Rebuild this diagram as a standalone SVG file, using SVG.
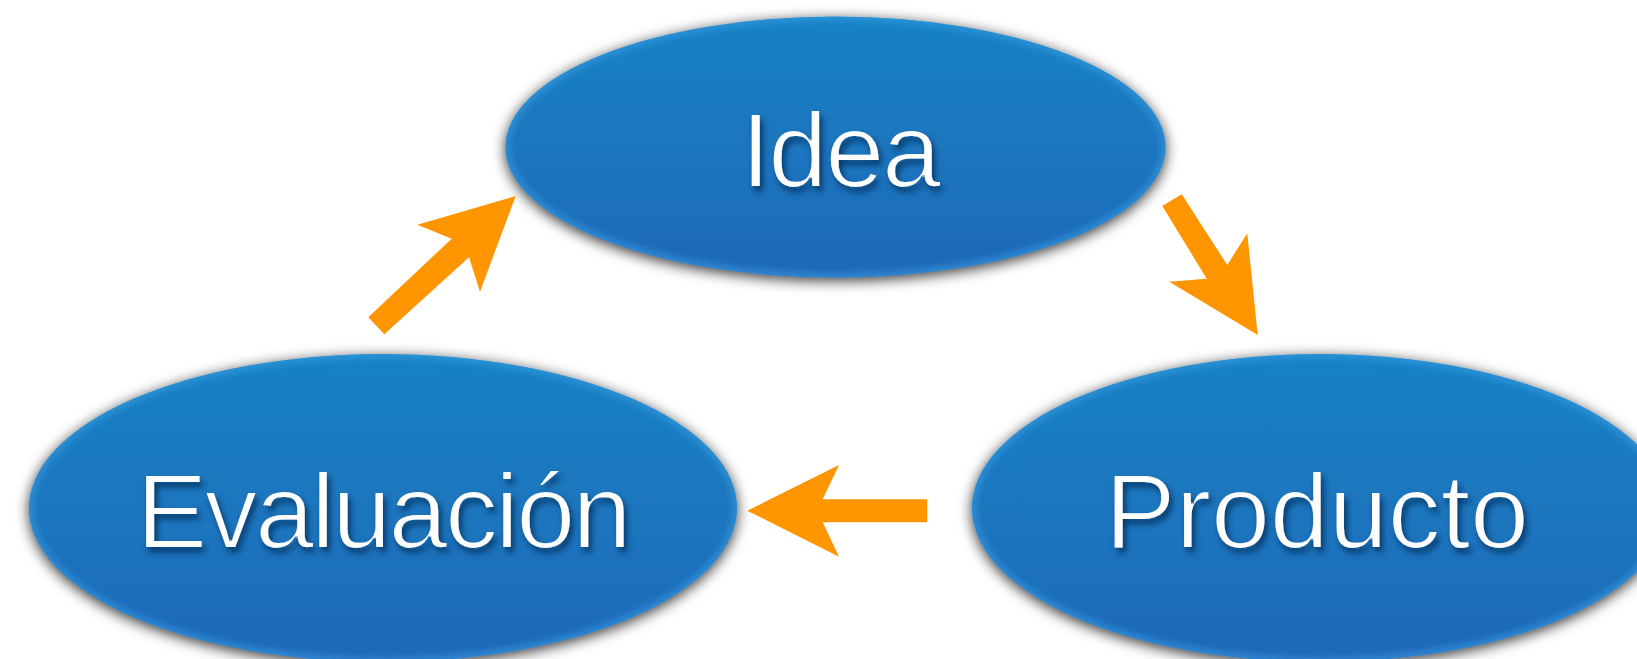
<svg xmlns="http://www.w3.org/2000/svg" width="1637" height="659" viewBox="0 0 1637 659">
<style>
.node-fill{fill:url(#blueGrad);filter:url(#nodeShadow)}
.rim{fill:none;stroke:#38a0e6;stroke-width:9;stroke-opacity:0.55;filter:url(#rimBlur)}
.label{font-family:"Liberation Sans",Arial,sans-serif;font-weight:normal;font-size:106px;fill:#ffffff;text-anchor:middle;filter:url(#textShadow)}
.arrow{fill:#ff9500}
</style>
<defs>
<linearGradient id="blueGrad" x1="0" y1="0" x2="0" y2="1">
<stop offset="0" stop-color="#1982c5"/>
<stop offset="0.5" stop-color="#1a76be"/>
<stop offset="1" stop-color="#2068b9"/>
</linearGradient>
<filter id="nodeShadow" x="-10%" y="-20%" width="120%" height="145%">
<feDropShadow dx="0" dy="3" stdDeviation="7" flood-color="#000" flood-opacity="0.8"/>
</filter>
<filter id="rimBlur" x="-5%" y="-5%" width="110%" height="110%">
<feGaussianBlur stdDeviation="3"/>
</filter>
<filter id="textShadow" x="-10%" y="-20%" width="125%" height="150%">
<feMorphology in="SourceGraphic" operator="erode" radius="0.65" result="thin"/>
<feGaussianBlur in="thin" stdDeviation="3" result="blur"/>
<feOffset in="blur" dx="3" dy="5" result="off"/>
<feFlood flood-color="#062a55" flood-opacity="0.85"/>
<feComposite in2="off" operator="in" result="shadow"/>
<feMerge><feMergeNode in="shadow"/><feMergeNode in="thin"/></feMerge>
</filter>
<clipPath id="clipIdea"><ellipse cx="835.5" cy="147" rx="330" ry="130.5"/></clipPath>
<clipPath id="clipEval"><ellipse cx="383" cy="508" rx="354" ry="154"/></clipPath>
<clipPath id="clipProd"><ellipse cx="1320" cy="508" rx="348" ry="154"/></clipPath>
</defs>
<rect width="1637" height="659" fill="#ffffff"/>
<g id="node-idea">
<ellipse class="node-fill" cx="835.5" cy="147" rx="330" ry="130.5"/>
<g clip-path="url(#clipIdea)"><ellipse class="rim" cx="835.5" cy="147" rx="330" ry="130.5"/></g>
<text class="label" x="841" y="187" textLength="200" lengthAdjust="spacing">Idea</text>
</g>
<g id="node-evaluacion">
<ellipse class="node-fill" cx="383" cy="508" rx="354" ry="154"/>
<g clip-path="url(#clipEval)"><ellipse class="rim" cx="383" cy="508" rx="354" ry="154"/></g>
<text class="label" x="384" y="548" textLength="495" lengthAdjust="spacing">Evaluación</text>
</g>
<g id="node-producto">
<ellipse class="node-fill" cx="1320" cy="508" rx="348" ry="154"/>
<g clip-path="url(#clipProd)"><ellipse class="rim" cx="1320" cy="508" rx="348" ry="154"/></g>
<text class="label" x="1317" y="547.5" textLength="424" lengthAdjust="spacing">Producto</text>
</g>
<g id="connectors">
<polygon class="arrow" points="368.3,317.3 451.7,238.7 417.3,224.7 515.7,196 480,291.7 469,257.3 384.3,334.3"/>
<polygon class="arrow" points="1162.3,206 1181.7,194.3 1227.3,265 1247.3,233.3 1257.7,335 1169.3,281.7 1206.7,278.7"/>
<polygon class="arrow" points="927.3,499.3 822.7,499.3 839,465 747.3,510.7 839,556.7 822.7,522.3 927.3,522.3"/>
</g>
</svg>
